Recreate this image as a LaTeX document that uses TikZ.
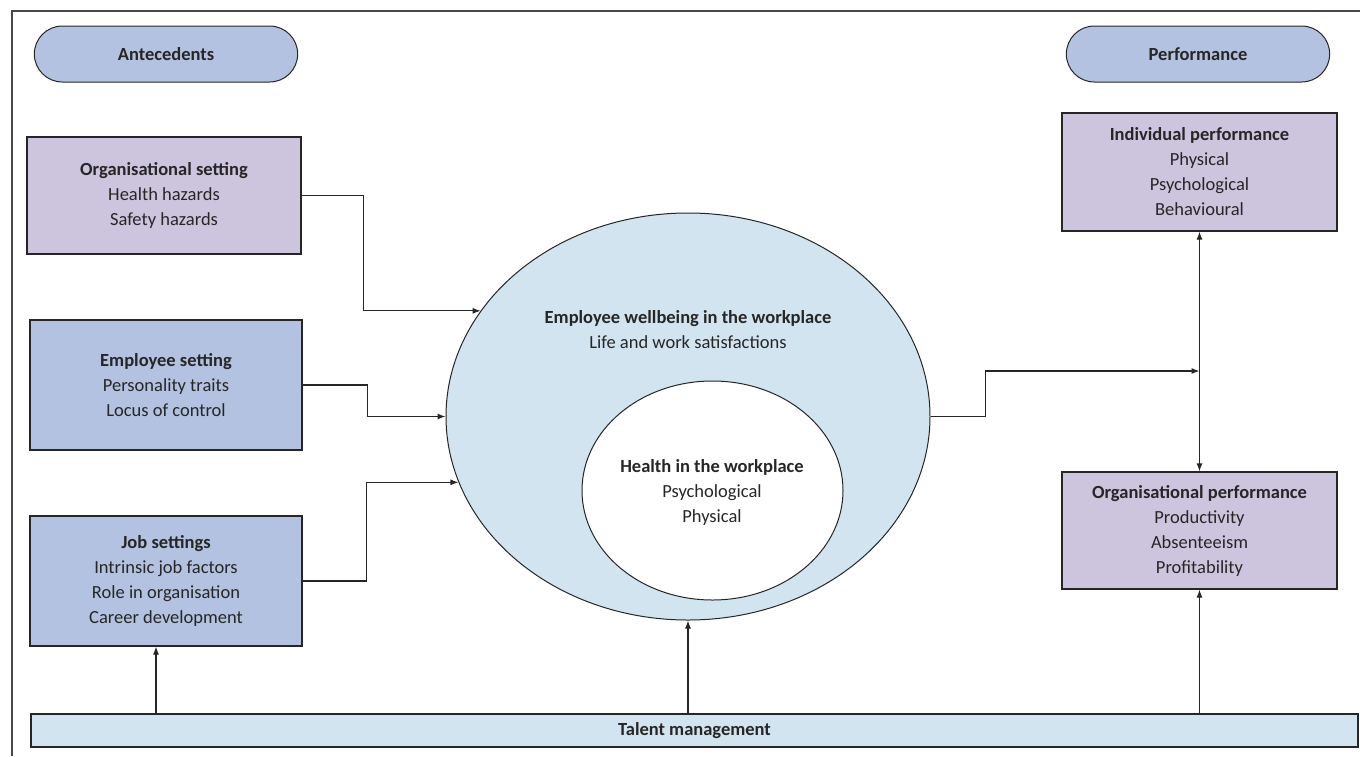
\documentclass[tikz,border=0pt]{standalone}
\usepackage{fontspec}
\setmainfont{Carlito}
\usetikzlibrary{shapes,arrows.meta}
\definecolor{pillblue}{HTML}{B3C2E0}
\definecolor{lavender}{HTML}{CDC5DE}
\definecolor{paleblue}{HTML}{D3E4F1}
\definecolor{ink}{HTML}{262626}
\tikzset{
  txt/.style={font=\fontsize{18.5}{25}\selectfont,text=ink,align=center},
  pill/.style={txt,draw=ink,line width=1pt,fill=pillblue,rounded rectangle,minimum width=270pt,minimum height=56pt,font=\fontsize{18.5}{25}\selectfont\bfseries},
  box/.style={txt,draw=ink,line width=1.2pt,rectangle,minimum width=272pt,inner sep=0pt},
  arr/.style={draw=ink,line width=1.1pt,-{Latex[length=8pt,width=6pt]}},
}
\begin{document}
\begin{tikzpicture}[x=1pt,y=-1pt]
\useasboundingbox (0,0) rectangle (1360,756);
% frame
\draw[ink!85,line width=1.2pt] (12,756) -- (12,11) -- (1362,11);
% headers
\node[pill] (ante) at (166,54) {Antecedents};
\node[pill] (perf) at (1198,54) {Performance};
% antecedents
\node[box,fill=lavender,minimum width=274pt,minimum height=117pt] (orgset) at (164,195.5)
  {\textbf{Organisational setting}\\Health hazards\\Safety hazards};
\node[box,fill=pillblue,minimum height=130pt] (empset) at (166,385)
  {\textbf{Employee setting}\\Personality traits\\Locus of control};
\node[box,fill=pillblue,minimum height=130pt] (jobset) at (166,581)
  {\textbf{Job settings}\\Intrinsic job factors\\Role in organisation\\Career development};
% wellbeing
\node[draw=ink,line width=1pt,fill=paleblue,ellipse,minimum width=484pt,minimum height=407pt] (well) at (688,416.5) {};
\node[txt] (welltxt) at (688,330) {\textbf{Employee wellbeing in the workplace}\\Life and work satisfactions};
\node[draw=ink,line width=1pt,fill=white,ellipse,minimum width=261pt,minimum height=219pt] (health) at (712.5,490.5) {};
\node[txt] (healthtxt) at (712,492) {\textbf{Health in the workplace}\\Psychological\\Physical};
% performance
\node[box,fill=lavender,minimum width=275pt,minimum height=118pt] (indiv) at (1199.5,172)
  {\textbf{Individual performance}\\Physical\\Psychological\\Behavioural};
\node[box,fill=lavender,minimum width=275pt,minimum height=117pt] (orgperf) at (1199.5,530.5)
  {\textbf{Organisational performance}\\Productivity\\Absenteeism\\Profitability};
% talent
\node[box,fill=paleblue,minimum width=1327pt,minimum height=33pt,font=\fontsize{18.5}{25}\selectfont\bfseries] (talent) at (694.5,730.5) {Talent management};
\coordinate (split) at (1199.5,371);
% connectors
\draw[arr] (orgset.east) -- ++(62,0) |- (well.153);
\draw[arr] (empset.east) -- ++(65,0) |- (well.180);
\draw[arr] (jobset.east) -- ++(64,0) |- (well.196);
\draw[arr] (well.east) -- ++(55,0) |- (split);
\draw[arr,{Latex[length=8pt,width=6pt]}-{Latex[length=8pt,width=6pt]}] (indiv.south) -- (orgperf.north);
\draw[arr] ([xshift=-10pt]jobset.south |- talent.north) -- ([xshift=-10pt]jobset.south);
\draw[arr] (well.south |- talent.north) -- (well.south);
\draw[arr] (orgperf.south |- talent.north) -- (orgperf.south);
\end{tikzpicture}
\end{document}
